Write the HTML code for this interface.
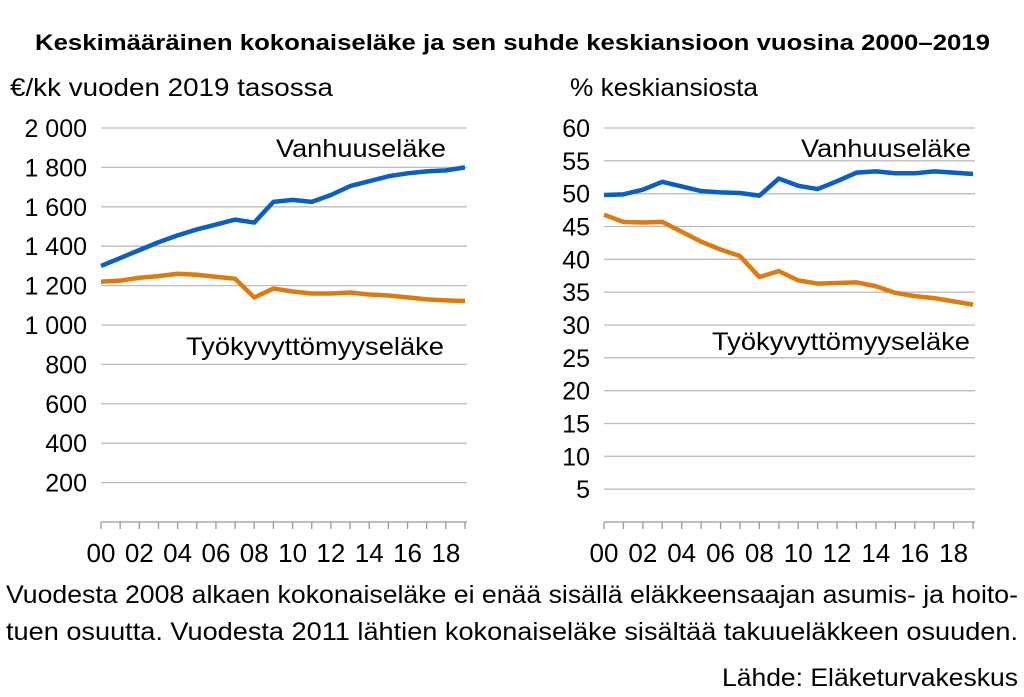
<!DOCTYPE html>
<html><head><meta charset="utf-8"><style>
body{margin:0;background:#fff;width:1024px;height:697px;overflow:hidden;font-family:"Liberation Sans",sans-serif}
svg{display:block}
</style></head><body>
<svg id="c" width="1024" height="697">
<text x="35" y="50" font-weight="bold" font-size="22" textLength="955" lengthAdjust="spacingAndGlyphs">Keskimääräinen kokonaiseläke ja sen suhde keskiansioon vuosina 2000–2019</text>
<text x="10" y="96" font-size="25" textLength="323" lengthAdjust="spacingAndGlyphs">€/kk vuoden 2019 tasossa</text>
<text x="570" y="96" font-size="25" textLength="188" lengthAdjust="spacingAndGlyphs">% keskiansiosta</text>
<text x="6" y="603" font-size="25" textLength="1012" lengthAdjust="spacingAndGlyphs">Vuodesta 2008 alkaen kokonaiseläke ei enää sisällä eläkkeensaajan asumis- ja hoito-</text>
<text x="6" y="640" font-size="25" textLength="1012" lengthAdjust="spacingAndGlyphs">tuen osuutta. Vuodesta 2011 lähtien kokonaiseläke sisältää takuueläkkeen osuuden.</text>
<text x="1018" y="686" text-anchor="end" font-size="25" textLength="296" lengthAdjust="spacingAndGlyphs">Lähde: Eläketurvakeskus</text>
<g id="L"></g><g id="R"></g>
</svg>
<script>
const years=["00","02","04","06","08","10","12","14","16","18"];
const leftTicks=[200,400,600,800,1000,1200,1400,1600,1800,2000];
const leftTickLabels=["200","400","600","800","1 000","1 200","1 400","1 600","1 800","2 000"];
const rightTicks=[5,10,15,20,25,30,35,40,45,50,55,60];
const leftOld=[1300,1340,1380,1420,1455,1485,1510,1535,1520,1625,1635,1625,1660,1705,1730,1755,1770,1780,1785,1800];
const leftDis=[1220,1225,1240,1248,1260,1255,1245,1235,1140,1185,1170,1160,1160,1165,1155,1150,1140,1130,1125,1122];
const rightOld=[49.8,49.9,50.6,51.8,51.1,50.4,50.2,50.1,49.7,52.3,51.2,50.7,51.9,53.2,53.4,53.1,53.1,53.4,53.2,53.0];
const rightDis=[46.8,45.7,45.6,45.7,44.2,42.7,41.5,40.5,37.3,38.2,36.8,36.3,36.4,36.5,35.9,34.9,34.4,34.1,33.6,33.1];
const NS="http://www.w3.org/2000/svg";
function mk(g,t,a){const e=document.createElementNS(NS,t);for(const k in a)e.setAttribute(k,a[k]);g.appendChild(e);return e;}
function panel(gid,x0,x1,max,ticks,labels,s1,s2,lblX,oldY,disY,pre){
 const g=document.getElementById(gid);
 const y0=522,yT=128;
 const Y=v=>y0-(v/max)*(y0-yT);
 const X=i=>x0+i*(x1-x0)/19;
 ticks.forEach((t,i)=>{
  const l=mk(g,"line",{x1:x0,x2:x1+2,y1:Y(t),y2:Y(t),stroke:"#bdbdbd","stroke-width":1.3});
  
  
  const tx=mk(g,"text",{x:x0-14,y:Y(t)+9,"text-anchor":"end","font-size":25});
  tx.textContent=labels[i];
  
  
 });
 const ax=mk(g,"line",{x1:x0,x2:x1+2,y1:y0,y2:y0,stroke:"#999","stroke-width":1.3});
 
 
 for(let i=0;i<=19;i++){const tk=mk(g,"line",{x1:X(i),x2:X(i),y1:y0,y2:y0+7,stroke:"#999","stroke-width":1.3});
  
  }
 years.forEach((yl,i)=>{const t=mk(g,"text",{x:X(i*2),y:562,"text-anchor":"middle","font-size":26});t.textContent=yl;
  
  });
 [[s1,"#0a5fc4","vanhuuselake-line"],[s2,"#de7b10","tyokyvyttomyyselake-line"]].forEach(([s,c,n])=>{
  const p=mk(g,"polyline",{points:s.map((v,i)=>X(i)+","+Y(v)).join(" "),fill:"none",stroke:c,"stroke-width":4.5,"stroke-linejoin":"round"});
  
  
 });
 const a=mk(g,"text",{x:lblX[0],y:oldY,"font-size":25,textLength:170,lengthAdjust:"spacingAndGlyphs"});a.textContent="Vanhuuseläke";
 
 
 const b=mk(g,"text",{x:lblX[1],y:disY,"font-size":25,textLength:258,lengthAdjust:"spacingAndGlyphs"});b.textContent="Työkyvyttömyyseläke";
 
 
}
panel("L",101,465,2000,leftTicks,leftTickLabels,leftOld,leftDis,[276,186],157,355,"left-");
panel("R",604,973,60,rightTicks,rightTicks.map(String),rightOld,rightDis,[801,712],157,350,"right-");
</script>
</body></html>
